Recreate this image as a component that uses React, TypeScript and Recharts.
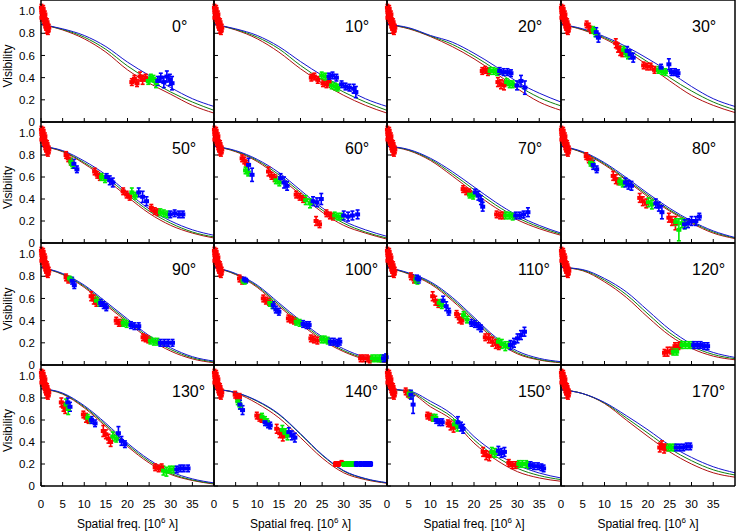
import React from "react";
import { ComposedChart, Line, Scatter, ErrorBar, XAxis, YAxis } from "recharts";

type Pt = [number, number, number]; // freq, visibility, error

const FONT = '"Liberation Sans", Arial, Helvetica, sans-serif';

const freqs = [0, 5, 10, 15, 20, 25, 30, 35, 40];
const xTicks = [0, 5, 10, 15, 20, 25, 30, 35];
const yTicks = [0, 0.2, 0.4, 0.6, 0.8, 1.0];
const angles = ["0°", "10°", "20°", "30°", "50°", "60°", "70°", "80°", "90°", "100°", "110°", "120°", "130°", "140°", "150°", "170°"];

// short baselines, same in every panel
const shortBase: Pt[] = [
  [0.1, 1.03, 0.03], [0.2, 0.99, 0.03], [0.3, 1.01, 0.03], [0.4, 0.96, 0.03], [0.5, 0.98, 0.03],
  [0.6, 0.94, 0.03], [0.7, 0.92, 0.03], [0.8, 0.95, 0.03], [0.9, 0.9, 0.03], [1.0, 0.88, 0.03],
  [1.1, 0.91, 0.03], [1.2, 0.86, 0.03], [1.3, 0.84, 0.04], [1.5, 0.86, 0.03], [0.2, 0.94, 0.03],
  [0.9, 0.97, 0.03], [1.4, 0.9, 0.03], [1.6, 0.82, 0.03], [1.8, 0.85, 0.03], [0.5, 1.02, 0.03],
];

// model curves at freqs: [red, green, blue]
const mod0 = [
  [0.88, 0.83, 0.75, 0.63, 0.47, 0.35, 0.25, 0.15, 0.08],
  [0.88, 0.835, 0.765, 0.655, 0.505, 0.38, 0.27, 0.18, 0.105],
  [0.88, 0.84, 0.78, 0.68, 0.54, 0.42, 0.31, 0.21, 0.14],
];
const mod10 = [
  [0.88, 0.83, 0.75, 0.63, 0.48, 0.35, 0.24, 0.15, 0.08],
  [0.88, 0.835, 0.765, 0.66, 0.51, 0.38, 0.27, 0.18, 0.105],
  [0.88, 0.84, 0.78, 0.68, 0.545, 0.42, 0.31, 0.21, 0.14],
];
const mod20 = [
  [0.88, 0.84, 0.77, 0.68, 0.57, 0.44, 0.3, 0.18, 0.105],
  [0.88, 0.845, 0.775, 0.7, 0.595, 0.47, 0.33, 0.22, 0.145],
  [0.88, 0.85, 0.78, 0.72, 0.62, 0.5, 0.36, 0.26, 0.18],
];
const mod30 = [
  [0.88, 0.83, 0.75, 0.64, 0.51, 0.37, 0.24, 0.15, 0.085],
  [0.88, 0.835, 0.76, 0.66, 0.54, 0.4, 0.28, 0.18, 0.11],
  [0.88, 0.84, 0.77, 0.68, 0.57, 0.45, 0.32, 0.21, 0.14],
];
const mod50 = [
  [0.88, 0.83, 0.72, 0.58, 0.42, 0.27, 0.16, 0.09, 0.045],
  [0.88, 0.835, 0.73, 0.6, 0.44, 0.29, 0.18, 0.1, 0.055],
  [0.88, 0.84, 0.745, 0.62, 0.46, 0.31, 0.2, 0.12, 0.07],
];
const mod60 = [
  [0.88, 0.83, 0.74, 0.6, 0.44, 0.28, 0.16, 0.09, 0.035],
  [0.88, 0.835, 0.75, 0.62, 0.46, 0.3, 0.18, 0.1, 0.045],
  [0.88, 0.84, 0.76, 0.64, 0.48, 0.32, 0.2, 0.12, 0.06],
];
const mod70 = [
  [0.88, 0.84, 0.75, 0.61, 0.46, 0.32, 0.21, 0.13, 0.07],
  [0.88, 0.845, 0.76, 0.63, 0.485, 0.345, 0.23, 0.145, 0.08],
  [0.88, 0.85, 0.77, 0.65, 0.51, 0.37, 0.25, 0.16, 0.09],
];
const mod80 = [
  [0.88, 0.82, 0.71, 0.57, 0.42, 0.29, 0.18, 0.09, 0.04],
  [0.88, 0.825, 0.72, 0.58, 0.435, 0.3, 0.19, 0.1, 0.045],
  [0.88, 0.83, 0.73, 0.595, 0.45, 0.315, 0.2, 0.11, 0.05],
];
const mod90 = [
  [0.88, 0.815, 0.7, 0.54, 0.385, 0.235, 0.125, 0.055, 0.02],
  [0.88, 0.82, 0.71, 0.555, 0.4, 0.25, 0.14, 0.065, 0.027],
  [0.88, 0.825, 0.72, 0.57, 0.415, 0.265, 0.155, 0.075, 0.035],
];
const mod100 = [
  [0.88, 0.815, 0.7, 0.53, 0.37, 0.225, 0.12, 0.05, 0.02],
  [0.88, 0.82, 0.71, 0.545, 0.385, 0.24, 0.13, 0.06, 0.025],
  [0.88, 0.825, 0.72, 0.56, 0.4, 0.255, 0.145, 0.07, 0.03],
];
const mod110 = [
  [0.88, 0.82, 0.73, 0.58, 0.4, 0.22, 0.1, 0.045, 0.02],
  [0.88, 0.825, 0.74, 0.595, 0.415, 0.235, 0.11, 0.05, 0.024],
  [0.88, 0.83, 0.75, 0.61, 0.43, 0.25, 0.125, 0.06, 0.03],
];
const mod120 = [
  [0.88, 0.85, 0.75, 0.61, 0.43, 0.265, 0.15, 0.08, 0.047],
  [0.88, 0.855, 0.765, 0.635, 0.46, 0.29, 0.17, 0.095, 0.057],
  [0.88, 0.86, 0.78, 0.66, 0.49, 0.32, 0.19, 0.113, 0.068],
];
const mod130 = [
  [0.885, 0.835, 0.71, 0.54, 0.36, 0.21, 0.105, 0.05, 0.018],
  [0.885, 0.84, 0.72, 0.555, 0.375, 0.225, 0.115, 0.055, 0.022],
  [0.885, 0.845, 0.73, 0.57, 0.39, 0.24, 0.13, 0.065, 0.028],
];
const mod140 = [
  [0.88, 0.845, 0.75, 0.62, 0.44, 0.255, 0.12, 0.058, 0.025],
  [0.88, 0.85, 0.77, 0.65, 0.47, 0.28, 0.135, 0.065, 0.028],
  [0.88, 0.85, 0.775, 0.655, 0.475, 0.285, 0.14, 0.068, 0.03],
];
const mod150 = [
  [0.88, 0.855, 0.72, 0.6, 0.39, 0.24, 0.13, 0.073, 0.043],
  [0.88, 0.86, 0.745, 0.625, 0.42, 0.27, 0.16, 0.095, 0.058],
  [0.88, 0.865, 0.77, 0.65, 0.45, 0.3, 0.19, 0.118, 0.073],
];
const mod170 = [
  [0.875, 0.84, 0.75, 0.6, 0.45, 0.31, 0.2, 0.12, 0.08],
  [0.875, 0.84, 0.755, 0.62, 0.48, 0.34, 0.23, 0.147, 0.1],
  [0.875, 0.84, 0.76, 0.64, 0.51, 0.37, 0.26, 0.175, 0.12],
];

// measured visibilities per panel and channel
const red0: Pt[] = [[21, 0.36, 0.03], [21.6, 0.39, 0.03], [22.2, 0.35, 0.03], [22.9, 0.41, 0.04], [23.5, 0.38, 0.04], [24.2, 0.4, 0.03]];
const grn0: Pt[] = [[24.8, 0.37, 0.03], [25.4, 0.4, 0.03], [26.0, 0.39, 0.03], [26.6, 0.35, 0.04]];
const blu0: Pt[] = [[27.0, 0.37, 0.04], [27.7, 0.4, 0.04], [28.4, 0.36, 0.05], [29.1, 0.41, 0.05], [29.8, 0.38, 0.05], [30.3, 0.35, 0.06]];

const red10: Pt[] = [[22.5, 0.4, 0.03], [23.2, 0.41, 0.03], [24.0, 0.38, 0.03], [25.2, 0.35, 0.03], [26.0, 0.34, 0.03], [26.6, 0.36, 0.03]];
const grn10: Pt[] = [[24.9, 0.42, 0.03], [25.7, 0.41, 0.03], [27.2, 0.33, 0.03], [28.0, 0.32, 0.03], [28.6, 0.31, 0.03]];
const blu10: Pt[] = [[26.6, 0.41, 0.03], [27.4, 0.42, 0.03], [28.3, 0.4, 0.03], [29.5, 0.34, 0.03], [30.4, 0.32, 0.03], [31.3, 0.31, 0.03], [32.3, 0.3, 0.04], [32.8, 0.27, 0.05]];

const red20: Pt[] = [[21.9, 0.46, 0.03], [22.6, 0.47, 0.03], [23.2, 0.45, 0.03], [25.5, 0.36, 0.04], [26.2, 0.34, 0.04], [26.9, 0.33, 0.04]];
const grn20: Pt[] = [[23.7, 0.46, 0.03], [24.5, 0.46, 0.03], [25.3, 0.45, 0.03], [27.5, 0.36, 0.03], [28.2, 0.34, 0.03], [28.9, 0.34, 0.03]];
const blu20: Pt[] = [[25.9, 0.46, 0.03], [26.8, 0.45, 0.03], [27.7, 0.45, 0.03], [28.5, 0.44, 0.03], [29.9, 0.33, 0.04], [30.8, 0.37, 0.05], [31.7, 0.31, 0.06]];

const red30: Pt[] = [[5.9, 0.88, 0.03], [6.4, 0.86, 0.03], [6.9, 0.83, 0.03], [12.6, 0.71, 0.04], [13.1, 0.67, 0.04], [13.6, 0.64, 0.04], [14.1, 0.62, 0.03], [19.0, 0.51, 0.03], [19.8, 0.5, 0.03], [20.6, 0.5, 0.03], [21.5, 0.47, 0.03]];
const grn30: Pt[] = [[7.4, 0.83, 0.03], [7.9, 0.8, 0.03], [14.4, 0.65, 0.03], [14.9, 0.62, 0.03], [15.4, 0.6, 0.03], [22.4, 0.47, 0.03], [23.2, 0.46, 0.03], [24.0, 0.45, 0.03]];
const blu30: Pt[] = [[8.1, 0.81, 0.04], [8.6, 0.76, 0.04], [15.2, 0.64, 0.04], [15.9, 0.61, 0.04], [16.6, 0.58, 0.04], [23.0, 0.49, 0.03], [24.8, 0.52, 0.05], [25.4, 0.45, 0.03], [26.2, 0.45, 0.03], [26.9, 0.44, 0.03]];

const red50: Pt[] = [[5.8, 0.8, 0.03], [6.3, 0.77, 0.03], [6.9, 0.74, 0.03], [12.4, 0.65, 0.03], [13.0, 0.62, 0.03], [13.6, 0.6, 0.03], [19.0, 0.47, 0.03], [19.8, 0.44, 0.03], [20.5, 0.42, 0.03], [25.5, 0.32, 0.03], [26.3, 0.29, 0.03], [27.0, 0.28, 0.03]];
const grn50: Pt[] = [[6.9, 0.74, 0.03], [7.3, 0.71, 0.03], [14.0, 0.6, 0.03], [14.8, 0.58, 0.03], [21.0, 0.46, 0.04], [21.8, 0.43, 0.03], [27.6, 0.28, 0.03], [28.4, 0.27, 0.03], [29.2, 0.26, 0.03]];
const blu50: Pt[] = [[7.6, 0.72, 0.04], [8.3, 0.67, 0.03], [15.2, 0.6, 0.03], [15.9, 0.57, 0.04], [16.6, 0.55, 0.04], [22.6, 0.46, 0.04], [23.5, 0.42, 0.05], [24.4, 0.38, 0.04], [29.9, 0.26, 0.03], [30.9, 0.27, 0.03], [31.9, 0.26, 0.03], [32.8, 0.26, 0.03]];

const red60: Pt[] = [[6.5, 0.77, 0.03], [7.0, 0.75, 0.03], [7.5, 0.72, 0.03], [12.6, 0.65, 0.04], [13.3, 0.61, 0.03], [14.0, 0.59, 0.03], [19.0, 0.44, 0.03], [19.8, 0.42, 0.03], [20.6, 0.4, 0.03], [23.6, 0.2, 0.04], [24.4, 0.17, 0.03], [26.0, 0.27, 0.03], [26.8, 0.25, 0.03], [27.5, 0.24, 0.03]];
const grn60: Pt[] = [[7.3, 0.66, 0.03], [7.9, 0.64, 0.03], [14.3, 0.57, 0.03], [15.1, 0.55, 0.03], [21.2, 0.39, 0.04], [22.2, 0.36, 0.04], [27.9, 0.25, 0.03], [28.7, 0.24, 0.03], [29.5, 0.24, 0.03]];
const blu60: Pt[] = [[8.0, 0.71, 0.06], [8.8, 0.62, 0.06], [15.4, 0.59, 0.04], [16.2, 0.55, 0.05], [16.9, 0.52, 0.04], [22.9, 0.38, 0.04], [23.8, 0.37, 0.04], [24.8, 0.4, 0.05], [30.0, 0.25, 0.04], [31.0, 0.24, 0.04], [32.0, 0.25, 0.04], [33.2, 0.26, 0.04]];

const red70: Pt[] = [[17.5, 0.49, 0.03], [18.2, 0.47, 0.03], [18.9, 0.46, 0.03], [25.2, 0.26, 0.03], [26.0, 0.25, 0.03], [26.7, 0.25, 0.03]];
const grn70: Pt[] = [[19.0, 0.44, 0.03], [19.8, 0.43, 0.03], [27.3, 0.25, 0.03], [28.1, 0.25, 0.03], [28.9, 0.24, 0.03]];
const blu70: Pt[] = [[20.3, 0.46, 0.03], [21.0, 0.43, 0.04], [21.6, 0.39, 0.04], [22.0, 0.33, 0.04], [29.6, 0.25, 0.03], [30.5, 0.25, 0.03], [31.4, 0.26, 0.03], [32.4, 0.28, 0.04]];

const red80: Pt[] = [[5.8, 0.79, 0.03], [6.4, 0.76, 0.03], [7.0, 0.74, 0.03], [12.0, 0.61, 0.04], [12.6, 0.58, 0.04], [13.2, 0.56, 0.03], [18.1, 0.41, 0.04], [18.8, 0.38, 0.04], [19.6, 0.36, 0.04], [24.8, 0.23, 0.04], [25.5, 0.2, 0.04], [26.3, 0.18, 0.06]];
const grn80: Pt[] = [[6.8, 0.73, 0.03], [7.3, 0.72, 0.03], [13.5, 0.56, 0.03], [14.2, 0.54, 0.03], [20.1, 0.37, 0.04], [20.9, 0.35, 0.04], [26.4, 0.19, 0.03], [27.1, 0.12, 0.1], [27.8, 0.18, 0.04], [28.5, 0.17, 0.04]];
const blu80: Pt[] = [[7.4, 0.71, 0.04], [8.2, 0.67, 0.03], [14.8, 0.55, 0.04], [15.5, 0.53, 0.04], [16.2, 0.52, 0.04], [21.8, 0.36, 0.04], [22.5, 0.33, 0.04], [23.2, 0.28, 0.06], [28.4, 0.17, 0.04], [29.2, 0.18, 0.04], [30.0, 0.2, 0.04], [31.0, 0.2, 0.04], [31.8, 0.24, 0.03]];

const red90: Pt[] = [[5.8, 0.79, 0.03], [6.3, 0.77, 0.03], [11.6, 0.62, 0.04], [12.2, 0.59, 0.04], [12.8, 0.56, 0.03], [17.4, 0.4, 0.03], [18.0, 0.38, 0.03], [18.6, 0.38, 0.03], [23.6, 0.25, 0.03], [24.2, 0.24, 0.03], [24.8, 0.23, 0.03]];
const grn90: Pt[] = [[6.6, 0.78, 0.02], [7.0, 0.77, 0.02], [12.8, 0.58, 0.03], [13.5, 0.56, 0.03], [19.0, 0.38, 0.03], [19.8, 0.37, 0.03], [25.3, 0.22, 0.03], [26.1, 0.21, 0.03], [26.9, 0.21, 0.03]];
const blu90: Pt[] = [[7.2, 0.76, 0.03], [7.7, 0.72, 0.03], [13.8, 0.56, 0.03], [14.5, 0.54, 0.03], [15.1, 0.52, 0.03], [20.8, 0.36, 0.03], [21.6, 0.35, 0.03], [22.6, 0.35, 0.03], [27.6, 0.2, 0.03], [28.5, 0.2, 0.03], [29.4, 0.2, 0.03], [30.4, 0.2, 0.03]];

const red100: Pt[] = [[5.9, 0.78, 0.03], [6.5, 0.76, 0.03], [11.4, 0.6, 0.03], [12.0, 0.58, 0.03], [12.7, 0.57, 0.03], [17.2, 0.42, 0.03], [17.8, 0.41, 0.03], [18.5, 0.4, 0.03], [22.4, 0.24, 0.03], [23.1, 0.23, 0.03], [23.9, 0.22, 0.03], [33.9, 0.06, 0.03], [34.6, 0.06, 0.03], [35.4, 0.06, 0.03], [36.0, 0.05, 0.03]];
const grn100: Pt[] = [[6.7, 0.76, 0.02], [7.1, 0.75, 0.02], [12.9, 0.56, 0.03], [13.5, 0.54, 0.03], [19.0, 0.39, 0.03], [19.8, 0.38, 0.03], [24.9, 0.23, 0.03], [25.6, 0.23, 0.03], [26.3, 0.22, 0.03], [36.6, 0.06, 0.03], [37.4, 0.06, 0.03], [38.2, 0.06, 0.03], [38.8, 0.06, 0.03]];
const blu100: Pt[] = [[7.0, 0.77, 0.02], [7.4, 0.76, 0.02], [13.7, 0.54, 0.03], [14.3, 0.5, 0.03], [15.0, 0.48, 0.03], [20.6, 0.37, 0.03], [21.4, 0.36, 0.03], [22.0, 0.36, 0.03], [26.9, 0.21, 0.03], [27.7, 0.21, 0.03], [28.5, 0.2, 0.03], [29.1, 0.21, 0.03], [39.2, 0.06, 0.03], [39.8, 0.07, 0.03]];

const red110: Pt[] = [[5.5, 0.8, 0.03], [6.2, 0.77, 0.03], [10.5, 0.62, 0.04], [11.1, 0.58, 0.04], [11.8, 0.55, 0.03], [16.0, 0.46, 0.03], [16.6, 0.42, 0.04], [17.2, 0.4, 0.03], [22.6, 0.25, 0.03], [23.4, 0.24, 0.04], [24.2, 0.21, 0.04], [25.0, 0.19, 0.04], [25.7, 0.17, 0.03]];
const grn110: Pt[] = [[6.6, 0.77, 0.03], [7.0, 0.76, 0.03], [12.0, 0.56, 0.03], [12.6, 0.54, 0.03], [17.6, 0.45, 0.03], [18.4, 0.41, 0.03], [25.6, 0.21, 0.03], [26.4, 0.19, 0.04], [27.2, 0.17, 0.04], [28.0, 0.18, 0.03]];
const blu110: Pt[] = [[6.9, 0.78, 0.03], [7.3, 0.77, 0.03], [12.9, 0.58, 0.04], [13.6, 0.53, 0.04], [14.2, 0.48, 0.03], [19.4, 0.38, 0.03], [20.2, 0.37, 0.03], [21.0, 0.35, 0.03], [21.6, 0.33, 0.03], [28.4, 0.18, 0.04], [29.2, 0.2, 0.04], [30.0, 0.24, 0.04], [30.8, 0.27, 0.04], [31.6, 0.3, 0.04]];

const red120: Pt[] = [[23.8, 0.11, 0.03], [24.5, 0.12, 0.04], [25.3, 0.13, 0.03], [26.2, 0.17, 0.03], [27.0, 0.17, 0.03], [27.6, 0.18, 0.03]];
const grn120: Pt[] = [[25.8, 0.12, 0.03], [26.6, 0.12, 0.03], [27.8, 0.18, 0.03], [28.6, 0.18, 0.03], [29.4, 0.18, 0.03], [30.2, 0.18, 0.03]];
const blu120: Pt[] = [[30.5, 0.18, 0.03], [31.3, 0.18, 0.03], [32.1, 0.18, 0.03], [32.9, 0.17, 0.03], [33.7, 0.17, 0.03]];

const red130: Pt[] = [[4.7, 0.76, 0.04], [5.2, 0.72, 0.04], [5.6, 0.7, 0.04], [9.8, 0.65, 0.03], [10.4, 0.62, 0.04], [11.0, 0.6, 0.03], [14.4, 0.5, 0.05], [15.0, 0.47, 0.04], [15.6, 0.43, 0.04], [16.1, 0.4, 0.04], [26.4, 0.17, 0.03], [27.2, 0.16, 0.03], [27.9, 0.17, 0.03]];
const grn130: Pt[] = [[5.8, 0.74, 0.05], [6.3, 0.7, 0.05], [10.8, 0.62, 0.03], [11.5, 0.6, 0.03], [16.6, 0.45, 0.04], [17.4, 0.43, 0.03], [28.3, 0.14, 0.04], [29.0, 0.13, 0.04], [29.8, 0.15, 0.03], [30.6, 0.15, 0.03]];
const blu130: Pt[] = [[6.2, 0.76, 0.04], [6.7, 0.72, 0.04], [11.7, 0.6, 0.03], [12.5, 0.57, 0.03], [17.9, 0.48, 0.06], [18.6, 0.41, 0.04], [19.4, 0.38, 0.03], [31.4, 0.15, 0.03], [32.2, 0.16, 0.03], [33.0, 0.16, 0.03], [34.0, 0.16, 0.03]];

const red140: Pt[] = [[4.9, 0.83, 0.03], [5.4, 0.8, 0.03], [5.9, 0.81, 0.03], [9.9, 0.64, 0.03], [10.5, 0.62, 0.03], [11.0, 0.61, 0.03], [14.5, 0.52, 0.04], [15.2, 0.48, 0.04], [15.9, 0.45, 0.04], [28.1, 0.2, 0.02], [28.8, 0.2, 0.02], [29.5, 0.21, 0.02]];
const grn140: Pt[] = [[5.5, 0.77, 0.03], [6.0, 0.73, 0.03], [11.1, 0.63, 0.03], [11.8, 0.6, 0.03], [12.3, 0.58, 0.03], [15.8, 0.51, 0.04], [16.5, 0.48, 0.04], [17.0, 0.46, 0.04], [30.0, 0.2, 0.02], [30.8, 0.2, 0.02], [31.6, 0.2, 0.02], [32.3, 0.2, 0.02]];
const blu140: Pt[] = [[6.0, 0.74, 0.04], [6.6, 0.69, 0.04], [11.8, 0.58, 0.03], [12.5, 0.56, 0.03], [13.0, 0.55, 0.03], [17.3, 0.49, 0.04], [18.0, 0.46, 0.04], [18.7, 0.44, 0.04], [32.9, 0.2, 0.02], [33.8, 0.2, 0.02], [34.7, 0.2, 0.02], [35.6, 0.2, 0.02], [36.2, 0.2, 0.02]];

const red150: Pt[] = [[4.3, 0.86, 0.03], [4.8, 0.84, 0.03], [5.2, 0.83, 0.03], [9.3, 0.64, 0.03], [9.9, 0.63, 0.03], [10.5, 0.62, 0.03], [14.0, 0.57, 0.03], [14.6, 0.55, 0.04], [15.3, 0.53, 0.04], [22.1, 0.31, 0.04], [22.8, 0.28, 0.04], [23.5, 0.27, 0.04], [28.0, 0.21, 0.03], [28.8, 0.19, 0.03], [29.6, 0.19, 0.03]];
const grn150: Pt[] = [[5.1, 0.84, 0.03], [5.5, 0.83, 0.03], [10.6, 0.62, 0.03], [11.2, 0.62, 0.03], [15.5, 0.56, 0.04], [16.2, 0.54, 0.04], [24.1, 0.31, 0.04], [24.8, 0.3, 0.04], [30.3, 0.2, 0.03], [31.1, 0.2, 0.03], [32.0, 0.2, 0.03], [32.6, 0.19, 0.03]];
const blu150: Pt[] = [[5.5, 0.83, 0.04], [6.0, 0.74, 0.08], [11.3, 0.6, 0.03], [12.0, 0.58, 0.03], [12.7, 0.58, 0.03], [16.3, 0.58, 0.05], [17.0, 0.54, 0.04], [17.5, 0.52, 0.04], [25.6, 0.32, 0.04], [26.3, 0.3, 0.04], [27.0, 0.31, 0.04], [33.0, 0.19, 0.03], [33.8, 0.18, 0.03], [34.7, 0.18, 0.03], [35.5, 0.17, 0.03], [36.0, 0.16, 0.03]];

const red170: Pt[] = [[22.7, 0.35, 0.04], [23.2, 0.37, 0.04], [23.7, 0.34, 0.04], [24.2, 0.35, 0.03]];
const grn170: Pt[] = [[24.7, 0.35, 0.03], [25.4, 0.35, 0.03], [26.1, 0.35, 0.03]];
const blu170: Pt[] = [[26.5, 0.35, 0.03], [27.3, 0.35, 0.03], [28.1, 0.35, 0.03], [28.9, 0.36, 0.03], [29.7, 0.36, 0.03]];

const models = [mod0, mod10, mod20, mod30, mod50, mod60, mod70, mod80, mod90, mod100, mod110, mod120, mod130, mod140, mod150, mod170];
const reds = [red0, red10, red20, red30, red50, red60, red70, red80, red90, red100, red110, red120, red130, red140, red150, red170];
const greens = [grn0, grn10, grn20, grn30, grn50, grn60, grn70, grn80, grn90, grn100, grn110, grn120, grn130, grn140, grn150, grn170];
const blues = [blu0, blu10, blu20, blu30, blu50, blu60, blu70, blu80, blu90, blu100, blu110, blu120, blu130, blu140, blu150, blu170];

const colLeft = [41, 214, 387, 561, 735];
const rowTop = [0, 122, 243, 365, 486];

const curveColors = ["#b01010", "#108010", "#1414d0"];
const dotColors = ["#ff0000", "#00ee00", "#0000ff"];

const toPts = (a: Pt[]) => a.map(([x, y, e]) => ({ x, y, e }));
const toCurve = (vals: number[]) => freqs.map((x, i) => ({ x, v: vals[i] }));
const blank = () => "";
const fmtY = (v: number) => (v === 0 ? "0" : v.toFixed(1));

const axisLine = { stroke: "#000", strokeWidth: 1.5 };
const tickLine = { stroke: "#000", strokeWidth: 1 };
const tickFont = { fontSize: 11.5, fill: "#000", fontFamily: FONT };

const dot = (color: string) => (p: any) => (
  <rect x={p.cx - 2.5} y={p.cy - 2} width={5} height={4} fill={color} />
);

const visTitle = (p: any) => {
  const vb = p.viewBox || { x: 0, y: 0, height: 0 };
  const cx = vb.x + 8.5;
  const cy = vb.y + vb.height / 2 + 5;
  return (
    <text x={cx} y={cy} dy="0.35em" transform={`rotate(-90 ${cx} ${cy})`} textAnchor="middle" fontSize={12} fontFamily={FONT} fill="#000">
      Visibility
    </text>
  );
};

const freqTitle = (p: any) => {
  const vb = p.viewBox || { x: 0, y: 0, width: 0 };
  return (
    <text x={vb.x + vb.width / 2} y={vb.y + 41.5} textAnchor="middle" fontSize={12} fontFamily={FONT} fill="#000">
      Spatial freq. [10<tspan dy={-4.5} fontSize={8}>6</tspan><tspan dy={4.5}> λ]</tspan>
    </text>
  );
};

const angleTitle = (ang: string) => (p: any) => {
  const vb = p.viewBox || { x: 0, y: 0, height: 0 };
  return (
    <text x={vb.x + 131} y={vb.y + (vb.height || 0) + 31.5} fontSize={16} fontFamily={FONT} fill="#000">
      {ang}
    </text>
  );
};

function Panel({ i }: { i: number }) {
  const row = Math.floor(i / 4);
  const col = i % 4;
  const yw = col === 0 ? 42 : 1;
  const xh = row === 3 ? 46 : 1;
  const pw = colLeft[col + 1] - colLeft[col];
  const ph = rowTop[row + 1] - rowTop[row];
  const sets = [[...shortBase, ...reds[i]], greens[i], blues[i]];
  return (
    <div style={{ position: "absolute", left: colLeft[col] - yw, top: rowTop[row] - 1 }}>
      <ComposedChart width={pw + yw + 1} height={ph + xh + 1} margin={{ top: 0, right: 0, bottom: 0, left: 0 }}>
        <XAxis xAxisId="b" dataKey="x" type="number" domain={[0, 40]} ticks={xTicks} interval={0} stroke="#000"
          height={xh} tickSize={-4} tickMargin={18} axisLine={axisLine} tickLine={tickLine} tick={tickFont}
          tickFormatter={row === 3 ? undefined : blank} label={row === 3 ? freqTitle : undefined} />
        <XAxis xAxisId="t" orientation="top" type="number" domain={[0, 40]} ticks={xTicks} interval={0} stroke="#000"
          height={1} tickSize={-4} axisLine={axisLine} tickLine={tickLine} tick={tickFont} tickFormatter={blank}
          label={angleTitle(angles[i])} />
        <YAxis yAxisId="l" type="number" domain={[0, 1.1]} ticks={yTicks} interval={0} stroke="#000"
          width={yw} tickSize={-4} tickMargin={10} axisLine={axisLine} tickLine={tickLine} tick={tickFont}
          tickFormatter={col === 0 ? fmtY : blank} label={col === 0 ? visTitle : undefined} />
        <YAxis yAxisId="r" orientation="right" type="number" domain={[0, 1.1]} ticks={yTicks} interval={0} stroke="#000"
          width={1} tickSize={-4} axisLine={axisLine} tickLine={tickLine} tick={tickFont} tickFormatter={blank} />
        {models[i].map((vals, k) => (
          <Line key={"m" + k} xAxisId="b" yAxisId="l" data={toCurve(vals)} dataKey="v" type="monotone"
            stroke={curveColors[k]} strokeWidth={1} dot={false} activeDot={false} isAnimationActive={false} />
        ))}
        {sets.map((pts, k) => (
          <Scatter key={"s" + k} xAxisId="b" yAxisId="l" data={toPts(pts)} dataKey="y"
            fill={dotColors[k]} shape={dot(dotColors[k])} isAnimationActive={false}>
            <ErrorBar dataKey="e" direction="y" width={2} stroke={dotColors[k]} strokeWidth={1.6} />
          </Scatter>
        ))}
      </ComposedChart>
    </div>
  );
}

export default function App() {
  return (
    <div style={{ position: "absolute", left: 0, top: 0, width: 736, height: 531, background: "#fff", fontFamily: FONT }}>
      <style>{`.recharts-surface{overflow:visible}
.recharts-cartesian-axis-line{stroke:#000 !important;stroke-width:1.5px}
.recharts-cartesian-axis-tick-line{stroke:#000 !important;stroke-width:1px}`}</style>
      {angles.map((_, i) => (
        <Panel key={i} i={i} />
      ))}
    </div>
  );
}
